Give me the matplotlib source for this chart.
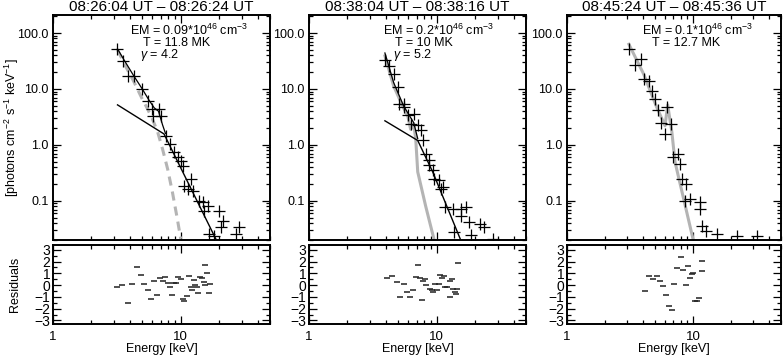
import numpy as np
import matplotlib
matplotlib.use('Agg')
import matplotlib.pyplot as plt
from matplotlib.ticker import LogLocator, NullFormatter, FixedLocator, MultipleLocator

plt.rcParams['font.family'] = ['Liberation Sans', 'DejaVu Sans']
plt.rcParams['mathtext.fontset'] = 'custom'
plt.rcParams['mathtext.rm'] = 'Liberation Sans'
plt.rcParams['mathtext.it'] = 'Liberation Sans:italic'

titles = ['08:26:04 UT \u2013 08:26:24 UT',
          '08:38:04 UT \u2013 08:38:16 UT',
          '08:45:24 UT \u2013 08:45:36 UT']
labels = [['EM = 0.09*10$^{46}$ cm$^{-3}$', 'T = 11.8 MK', '$\\gamma$ = 4.2'],
          ['EM = 0.2*10$^{46}$ cm$^{-3}$', 'T = 10 MK', '$\\gamma$ = 5.2'],
          ['EM = 0.1*10$^{46}$ cm$^{-3}$', 'T = 12.7 MK']]

# panel 1 data
e1 = [3.19, 3.56, 3.9, 4.27, 5.02, 5.5, 6.0, 6.7, 6.1, 7.0, 7.6, 8.3, 8.8, 9.5, 10.0,
      10.4, 10.6, 11.3, 12.4, 12.0, 13.9, 14.9, 16.4, 15.2, 19.9, 21.4, 20.6, 16.6,
      18.2, 28.6, 27.0]
f1 = [51.6, 31.6, 17, 17, 10, 6.1, 4.4, 4.4, 3.3, 3.3, 1.45, 1.04, 0.75, 0.61, 0.52,
      0.42, 0.185, 0.16, 0.15, 0.25, 0.1, 0.096, 0.082, 0.066, 0.066, 0.044, 0.034,
      0.026, 0.024, 0.034, 0.026]
th1_e = [3.2, 3.69, 4.27, 5.0, 5.5, 6.0, 6.6, 7.2, 7.9, 8.6, 9.4, 10.0]
th1_f = [50, 25.8, 13.9, 6.6, 4.4, 2.9, 1.7, 0.85, 0.37, 0.145, 0.048, 0.021]
tot1_e = [3.2, 3.6, 4.3, 5.0, 5.6, 6.2, 6.7, 7.2, 7.6]
tot1_f = [52, 33, 17, 10, 6.5, 4.6, 4.0, 2.3, 1.6]
nt1_e = [3.2, 7.4, 18.8]
nt1_f = [5.2, 1.57, 0.021]
re1 = [3.15, 3.5, 3.84, 4.18, 4.53, 4.87, 5.17, 5.5, 5.88, 6.2, 6.5, 6.9, 7.2, 7.5, 7.9,
       8.3, 8.5, 8.8, 9.2, 9.5, 10.0, 10.4, 10.7, 11.2, 11.6, 12.0, 12.3, 12.6, 13.0,
       13.3, 13.7, 14.1, 14.8, 15.2, 15.4, 15.6, 16.1, 16.6, 16.9]
rv1 = [-0.2, -0.03, -1.5, 0.12, 1.5, 0.85, 0.07, -0.38, -1.2, 0.38, -0.8, 0.62, 0.38,
       0.68, 0.18, -0.2, -0.8, 0.15, 0.2, 0.68, 0.55, -1.22, -1.35, -0.9, 0.75, -0.2,
       -0.42, 0.45, 0.0, -0.15, -0.7, 0.7, 0.62, 0.25, 0.0, 1.7, 1.05, -0.7, 0.05]

# panel 2 data
e2 = [3.93, 4.2, 4.6, 4.96, 5.05, 5.5, 5.5, 6.0, 6.6, 6.25, 7.1, 7.5, 7.8, 8.2, 8.7,
      8.7, 9.3, 9.5, 10.4, 11.1, 10.8, 11.7, 13.3, 15.4, 16.8, 17.8, 22, 23.3, 13.6,
      18.4, 27.8, 15.4]
f2 = [33, 26, 18.5, 10.9, 5.4, 5.4, 4.8, 3.4, 3.6, 2.4, 2.3, 1.85, 1.23, 0.69, 0.54,
      0.44, 0.36, 0.25, 0.24, 0.18, 0.16, 0.078, 0.072, 0.072, 0.078, 0.042, 0.039,
      0.034, 0.028, 0.025, 0.021, 0.054]
th2_e = [3.93, 4.6, 5.4, 5.95, 6.25, 6.6, 6.85, 7.1, 8.2, 9.5]
th2_f = [39, 11.3, 5.0, 3.2, 1.9, 2.4, 1.28, 0.33, 0.08, 0.021]
tot2_e = [3.93, 4.6, 5.5, 6.6, 7.1]
tot2_f = [44, 13, 5.0, 2.5, 1.3]
nt2_e = [3.93, 7.1, 9.3, 15.4]
nt2_f = [2.7, 1.2, 0.33, 0.02]
re2 = [4.11, 4.5, 4.9, 5.2, 5.5, 5.85, 6.2, 6.5, 7.1, 6.9, 7.4, 7.7, 7.8, 8.1, 8.3,
       8.9, 9.2, 9.4, 9.7, 10.0, 10.4, 10.6, 11.0, 11.3, 11.7, 12.1, 12.6, 12.7, 13.1,
       13.4, 13.9, 14.2, 14.8, 14.5]
rv2 = [0.58, 0.8, 0.3, -1.05, 0.08, -0.55, -1.05, -0.45, 1.7, 0.65, 0.58, -1.3, 0.38,
       0.55, 0.0, -0.32, -0.45, -0.55, 0.05, -0.42, 0.1, 0.88, 0.62, 0.75, -0.12, -0.2,
       -1.0, 0.38, 0.52, -0.32, -0.58, -0.78, 1.88, -0.32]

# panel 3 data
e3 = [3.1, 3.46, 3.85, 4.06, 4.45, 4.7, 5.0, 5.3, 5.6, 6.0, 6.2, 6.7, 7.0, 7.6, 7.9,
      8.2, 8.8, 8.6, 9.5, 11.3, 11.3, 11.9, 12.6, 15.6, 22.5, 32]
f3 = [51.6, 27, 34, 15, 14, 9.3, 6.6, 4.2, 2.5, 1.6, 4.8, 2.4, 0.6, 0.69, 0.46, 0.25,
      0.2, 0.1, 0.108, 0.096, 0.072, 0.036, 0.029, 0.026, 0.024, 0.024]
th3_e = [3.1, 4.06, 5.1, 6.0, 6.3, 6.8, 7.2, 10.0]
th3_f = [63, 18.5, 5.0, 2.2, 5.2, 1.7, 0.5, 0.021]
re3 = [4.17, 4.5, 4.8, 5.15, 5.5, 5.8, 6.1, 6.5, 6.8, 7.1, 7.5, 8.1, 8.4, 8.75, 9.2,
       9.4, 9.75, 10.0, 10.4, 10.8, 11.1, 11.7, 11.85]
rv3 = [-0.5, 0.75, 0.52, 0.78, 0.38, -0.1, -0.8, -1.8, -2.1, 0.08, 1.45, 2.38, 1.28,
       0.0, 1.62, 0.62, 0.95, 1.0, -1.35, -1.38, -1.12, 1.2, 2.03]

W, H = 784, 359
fig = plt.figure(figsize=(W / 100, H / 100), dpi=100)

lefts = [53, 309, 567]
widths = [217, 217, 214]
gray = '#b4b4b4'


def style(ax):
    ax.tick_params(which='both', direction='in', top=True, right=True,
                   labelsize=9, width=0.9, pad=3)
    ax.tick_params(which='major', length=6)
    ax.tick_params(which='minor', length=3)
    for s in ax.spines.values():
        s.set_linewidth(1.4)


data = [(e1, f1), (e2, f2), (e3, f3)]
resid = [(re1, rv1), (re2, rv2), (re3, rv3)]

for i in range(3):
    l = lefts[i] / W
    w = widths[i] / W
    ax = fig.add_axes([l, 1 - 240 / H, w, 225 / H])
    ax.set_xscale('log')
    ax.set_yscale('log')
    ax.set_xlim(1, 50)
    ax.set_ylim(0.02, 210)
    e, f = data[i]
    if i == 0:
        ax.plot(th1_e, th1_f, color=gray, lw=2.2, ls=(0, (3, 2)))
        ax.plot(tot1_e, tot1_f, color='k', lw=0.9)
        ax.plot(nt1_e, nt1_f, color='k', lw=1.0)
    elif i == 1:
        ax.plot(th2_e, th2_f, color=gray, lw=2.2)
        ax.plot(tot2_e, tot2_f, color='k', lw=0.9)
        ax.plot(nt2_e, nt2_f, color='k', lw=1.0)
    else:
        ax.plot(th3_e, th3_f, color=gray, lw=2.2)
    ax.plot(e, f, ls='none', marker='+', ms=9, mew=0.9, color='k')
    ax.set_yticks([0.1, 1, 10, 100])
    ax.set_yticklabels(['0.1', '1.0', '10.0', '100.0'])
    ax.yaxis.set_minor_locator(LogLocator(base=10, subs=np.arange(2, 10)))
    ax.yaxis.set_minor_formatter(NullFormatter())
    ax.xaxis.set_minor_locator(LogLocator(base=10, subs=np.arange(2, 10)))
    ax.xaxis.set_major_formatter(NullFormatter())
    ax.xaxis.set_minor_formatter(NullFormatter())
    style(ax)
    ax.set_title(titles[i], fontsize=11, pad=3)
    if i == 0:
        ax.set_ylabel('[photons cm$^{-2}$ s$^{-1}$ keV$^{-1}$]', fontsize=9)
        ax.yaxis.set_label_coords(-0.148, 0.5)
    xs = [0.355, 0.415, 0.40] if i == 0 else ([0.341, 0.396, 0.387] if i == 1 else [0.35, 0.397])
    ys = [0.93, 0.877, 0.823]
    for k, t in enumerate(labels[i]):
        ax.text(xs[k], ys[k], t, transform=ax.transAxes, fontsize=9,
                ha='left', va='center')

    rx = fig.add_axes([l, 1 - 324 / H, w, 79 / H])
    rx.set_xscale('log')
    rx.set_xlim(1, 50)
    rx.set_ylim(-3.3, 3.4)
    re, rv = resid[i]
    rx.plot(re, rv, ls='none', marker='_', ms=5, mew=1.1, color='#202020')
    rx.set_yticks([-3, -2, -1, 0, 1, 2, 3])
    rx.set_yticklabels(['\u22123', '\u22122', '\u22121', '0', '1', '2', '3'])
    rx.yaxis.set_minor_locator(MultipleLocator(0.5))
    rx.xaxis.set_major_locator(FixedLocator([1, 10]))
    rx.set_xticklabels(['1', '10'])
    rx.xaxis.set_minor_locator(LogLocator(base=10, subs=np.arange(2, 10)))
    rx.xaxis.set_minor_formatter(NullFormatter())
    style(rx)
    rx.tick_params(axis='y', labelsize=10, pad=2)
    rx.tick_params(axis='x', labelsize=9.5, pad=5)
    rx.set_xlabel('Energy [keV]', fontsize=9)
    rx.xaxis.set_label_coords(0.5, -0.245)
    if i == 0:
        rx.set_ylabel('Residuals', fontsize=9)
        rx.yaxis.set_label_coords(-0.148, 0.5)

fig.savefig('out.png', dpi=100)
